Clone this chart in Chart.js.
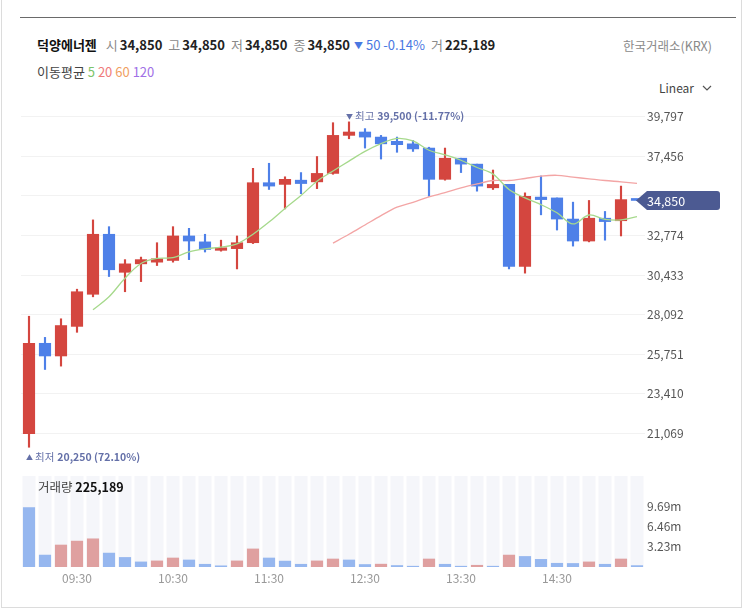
<!DOCTYPE html>
<html>
<head>
<meta charset="utf-8">
<script src="https://cdn.jsdelivr.net/npm/chart.js@4.4.1/dist/chart.umd.min.js"></script>
<style>
body { margin: 0; width: 743px; height: 610px; overflow: hidden; background: #fff; position: relative;
       font-family: "Noto Sans CJK KR", "Noto Sans", sans-serif; }
.card { position: absolute; left: 1px; top: -2px; width: 739px; height: 608px; border: 1px solid #dcdcdc; }
.topline { position: absolute; left: 20px; top: 17px; width: 716px; height: 1px; background: #6a6a6a; }
.t { position: absolute; white-space: nowrap; font-size: 13px; line-height: 16px; color: #222; }
.lb { color: #8a8a8a; margin-left: 6px; margin-right: 2px; }
.v { font-weight: bold; color: #222; }
.dn { color: #4a78e2; margin-left: 4px; }
canvas { position: absolute; left: 0; }
</style>
</head>
<body>
<div class="card"></div>
<div class="topline"></div>
<div class="t" id="title" style="left:37px;top:37px"></div>
<div class="t" style="right:31px;top:38px;color:#8a8a8a;font-size:12.5px">한국거래소(KRX)</div>
<div class="t" style="left:37px;top:64px;font-size:13px;color:#444">이동평균 <span style="color:#7cc46a">5</span> <span style="color:#ef7b7b">20</span> <span style="color:#f0a062">60</span> <span style="color:#a070e6">120</span></div>
<div class="t" style="left:659px;top:80px;font-size:12px;color:#444">Linear
  <svg width="10" height="7" style="margin-left:5px;vertical-align:1px"><polyline points="1,1 5,5 9,1" fill="none" stroke="#555" stroke-width="1.2"/></svg></div>
<canvas id="price" width="743" height="372" style="top:100px"></canvas>
<canvas id="volume" width="743" height="126" style="top:474px"></canvas>
<div class="t" id="volTitle" style="left:38px;top:479px;font-size:12.5px;color:#444"></div>
<script>
const times = ['09:00','09:10','09:20','09:30','09:40','09:50','10:00','10:10','10:20','10:30','10:40','10:50',
               '11:00','11:10','11:20','11:30','11:40','11:50','12:00','12:10','12:20','12:30','12:40','12:50',
               '13:00','13:10','13:20','13:30','13:40','13:50','14:00','14:10','14:20','14:30','14:40','14:50',
               '15:00','15:10','15:20'];
const opens  = [21050,26400,25650,27400,29300,32850,30600,31100,31200,31300,32750,32400,31900,32000,32350,35900,35800,36050,35950,36450,
                38700,38900,38600,38350,38200,37950,36100,37350,37000,35600,35800,30950,35050,35000,33750,32450,33800,33650,34850];
const highs  = [28000,26750,27850,29600,33700,33300,31350,31500,32350,33300,33200,32850,32500,32750,36750,37050,36250,36500,37450,39450,
                39500,39100,38700,38600,38400,38000,37950,37350,37000,36650,35800,35300,36300,35000,34750,34850,34200,35700,34850];
const lows   = [20250,24850,25050,27050,29150,30350,29450,30050,31000,31200,31350,31800,31850,30800,32300,35500,34350,35250,35550,36400,
                38500,37950,37300,37700,37750,35100,36050,36500,35400,35500,30800,30550,34000,33100,32150,32400,32500,32750,34850];
const closes = [26400,25650,27450,29450,32850,30750,31100,31350,31400,32750,32450,31950,32050,32350,35900,35700,36100,35850,36450,38700,
                38900,38600,38200,38150,37900,36100,37350,37000,35700,35800,30950,35100,34900,33750,32450,33800,33600,34900,34850];
const volumes = [9570000,1920000,3540000,4170000,4540000,2240000,1540000,820000,980000,1450000,1130000,440000,190000,980000,2910000,
                 1450000,950000,440000,980000,1290000,1130000,400000,460000,240000,130000,1290000,440000,130000,280000,130000,
                 1920000,1700000,1230000,600000,570000,820000,440000,1290000,225189];
// moving averages
const ma5  = [null,null,null,null,28380,29150,30250,31120,31420,31470,31810,31990,32090,32280,32850,33570,34380,35140,35990,36590,
              37180,37750,38210,38520,38370,37820,37550,37230,36800,36410,35500,35000,34600,34120,33460,33990,33730,33700,33900];
const ma20 = [null,null,null,null,null,null,null,null,null,null,null,null,null,null,null,null,null,null,null,32330,
              32850,33400,33950,34450,34740,35060,35310,35600,35830,36030,36030,36150,36290,36340,36230,36130,36030,35950,35860];
const priceTicks = [21069,23410,25751,28092,30433,32774,35115,37456,39797];
const volTicks = [3230000,6460000,9690000];

const FONT = '"Noto Sans CJK KR", "Noto Sans", sans-serif';
const RED = '#d4463f', BLUE = '#4e80e8';
const VOL_RED = '#dfa0a0', VOL_BLUE = '#96b7ef';
const fmt = v => v.toLocaleString('en-US');
const last = closes.length - 1;

const candleColors = closes.map((c, i) => {
    if (c > opens[i]) return RED;
    if (c < opens[i]) return BLUE;
    return (i > 0 && c < closes[i - 1]) ? BLUE : RED;
});
const volColors = volumes.map((v, i) => (i > 0 && v > volumes[i - 1]) ? VOL_RED : VOL_BLUE);

// header
const change = closes[last] - closes[last - 1];
const pct = (change / closes[last - 1] * 100).toFixed(2);
document.getElementById('title').innerHTML =
    `<b style="color:#111">덕양에너젠</b><span class="lb" style="margin-left:9px">시</span><span class="v">${fmt(opens[last])}</span>` +
    `<span class="lb">고</span><span class="v">${fmt(highs[last])}</span>` +
    `<span class="lb">저</span><span class="v">${fmt(lows[last])}</span>` +
    `<span class="lb">종</span><span class="v">${fmt(closes[last])}</span>` +
    `<span class="dn"><span style="font-size:9px;vertical-align:1px">${change < 0 ? '▼' : '▲'}</span> ${fmt(Math.abs(change))} ${pct}%</span>` +
    `<span class="lb">거</span><span class="v">${fmt(volumes[last])}</span>`;
document.getElementById('volTitle').innerHTML = `거래량 <b style="color:#111">${fmt(volumes[last])}</b>`;

const extremesPlugin = {
    id: 'extremes',
    afterDatasetsDraw(chart) {
        const ctx = chart.ctx, x = chart.scales.x, y = chart.scales.y;
        const hi = highs.indexOf(Math.max(...highs));
        const lo = lows.indexOf(Math.min(...lows));
        const draw = (idx, val, arrow, word, dy) => {
            const p = ((closes[last] - val) / val * 100).toFixed(2);
            let px = x.getPixelForValue(idx) - 3;
            const py = y.getPixelForValue(val) + dy;
            ctx.save();
            ctx.fillStyle = '#6470a8';
            ctx.textBaseline = 'middle';
            ctx.font = `7px ${FONT}`;
            ctx.fillText(arrow, px, py);
            px += 9;
            ctx.font = `10.5px ${FONT}`;
            ctx.fillText(word, px, py);
            px += ctx.measureText(word).width + 3;
            ctx.font = `bold 10.5px ${FONT}`;
            ctx.fillText(`${fmt(val)} (${p}%)`, px, py);
            ctx.restore();
        };
        draw(hi, highs[hi], '▼', '최고', -6);
        draw(lo, lows[lo], '▲', '최저', 10);
    },
    afterDraw(chart) {
        const ctx = chart.ctx, area = chart.chartArea;
        const py = chart.scales.y.getPixelForValue(closes[last]);
        const tip = area.right - 9, left = tip + 11, right = 720, h = 19;
        ctx.save();
        ctx.fillStyle = '#4c5a92';
        ctx.beginPath();
        ctx.moveTo(tip, py);
        ctx.lineTo(left, py - h / 2);
        ctx.lineTo(right - 3, py - h / 2);
        ctx.quadraticCurveTo(right, py - h / 2, right, py - h / 2 + 3);
        ctx.lineTo(right, py + h / 2 - 3);
        ctx.quadraticCurveTo(right, py + h / 2, right - 3, py + h / 2);
        ctx.lineTo(left, py + h / 2);
        ctx.closePath();
        ctx.fill();
        ctx.fillStyle = '#fff';
        ctx.font = `12.5px ${FONT}`;
        ctx.textBaseline = 'middle';
        ctx.fillText(fmt(closes[last]), 647, py + 1);
        ctx.restore();
    }
};

// lineHeight 0 keeps the axis from padding the plot for its outer labels
new Chart(document.getElementById('price'), {
    type: 'bar',
    data: {
        labels: times,
        datasets: [
            { type: 'line', data: ma5, borderColor: '#a6d98c', borderWidth: 1.3, pointRadius: 0, tension: 0.35, order: 0 },
            { type: 'line', data: ma20, borderColor: '#f3a5a5', borderWidth: 1.3, pointRadius: 0, tension: 0.35, order: 0 },
            { data: opens.map((o, i) => [o, closes[i]]), backgroundColor: candleColors, barThickness: 11.5,
              minBarLength: 2, grouped: false, order: 1 },
            { data: lows.map((l, i) => [l, highs[i]]), backgroundColor: candleColors, barThickness: 1.5,
              grouped: false, order: 2 }
        ]
    },
    options: {
        responsive: false, animation: false, events: [],
        layout: { padding: { left: 21, right: 0, top: 0, bottom: 0 } },
        plugins: { legend: { display: false }, tooltip: { enabled: false } },
        scales: {
            x: { display: false, offset: true },
            y: {
                position: 'right', min: 18904, max: 40675,
                afterFit(s) { s.width = 98; },
                afterBuildTicks(s) { s.ticks = priceTicks.map(v => ({ value: v })); },
                grid: { color: '#f2f2f2', drawTicks: false },
                border: { display: false },
                ticks: { padding: 2, color: '#555', font: { size: 12, family: FONT, lineHeight: 0 }, callback: v => fmt(v) }
            }
        }
    },
    plugins: [extremesPlugin]
});

const columnsPlugin = {
    id: 'columns',
    beforeDatasetsDraw(chart) {
        const ctx = chart.ctx, area = chart.chartArea, x = chart.scales.x;
        ctx.save();
        ctx.fillStyle = '#f5f6fa';
        times.forEach((t, i) => {
            const px = x.getPixelForValue(i);
            ctx.fillRect(px - 6.5, area.top, 13, area.bottom - area.top);
        });
        ctx.restore();
    }
};

new Chart(document.getElementById('volume'), {
    type: 'bar',
    data: {
        labels: times,
        datasets: [{ data: volumes, backgroundColor: volColors, barThickness: 11.5 }]
    },
    options: {
        responsive: false, animation: false, events: [],
        layout: { padding: { left: 21, right: 0, top: 0, bottom: 0 } },
        plugins: { legend: { display: false }, tooltip: { enabled: false } },
        scales: {
            x: {
                offset: true,
                afterFit(s) { s.height = 33; },
                grid: { display: false, drawTicks: false }, border: { display: false },
                ticks: {
                    autoSkip: false, maxRotation: 0, padding: 4, color: '#999', font: { size: 12, family: FONT },
                    callback(v) { const l = this.getLabelForValue(v); return l.endsWith(':30') ? l : ''; }
                }
            },
            y: {
                position: 'right', min: 0, max: 14650000,
                afterFit(s) { s.width = 98; },
                afterBuildTicks(s) { s.ticks = volTicks.map(v => ({ value: v })); },
                grid: { display: false, drawTicks: false }, border: { display: false },
                ticks: { padding: 2, color: '#555', font: { size: 12, family: FONT, lineHeight: 0 },
                         callback: v => (v / 1e6).toFixed(2) + 'm' }
            }
        }
    },
    plugins: [columnsPlugin]
});
</script>
</body>
</html>
